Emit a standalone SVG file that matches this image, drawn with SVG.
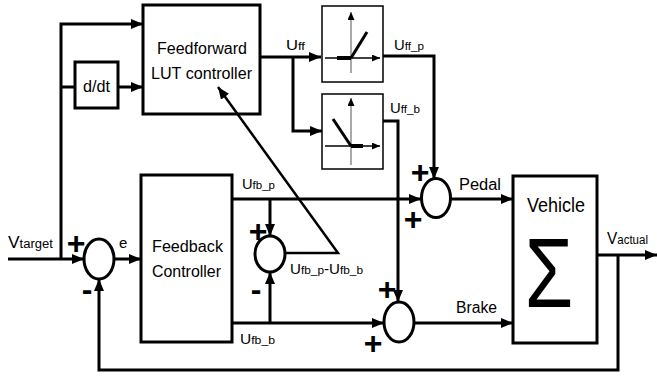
<svg xmlns="http://www.w3.org/2000/svg" width="657" height="376" viewBox="0 0 657 376">
<defs>
<style>
.blk{fill:#fff;stroke:#000;stroke-width:3}
.sat{fill:#fff;stroke:#000;stroke-width:1.5}
.sum{fill:#fff;stroke:#000;stroke-width:3}
.wire{fill:none;stroke:#000;stroke-width:3}
.ax{fill:none;stroke:#000;stroke-width:1.5}
.axv{fill:none;stroke:#555;stroke-width:1}
.t{font-family:"Liberation Sans",Arial,sans-serif;fill:#000}
.sg{font-family:"Liberation Sans",Arial,sans-serif;font-weight:bold;font-size:32px;fill:#000;text-anchor:middle}
</style>
<marker id="ah" markerUnits="userSpaceOnUse" markerWidth="12" markerHeight="10" refX="12" refY="5" orient="auto">
<path d="M0,0 L12,5 L0,10 z" fill="#000"/>
</marker>
<marker id="sa" markerUnits="userSpaceOnUse" markerWidth="8" markerHeight="7" refX="8" refY="3.5" orient="auto">
<path d="M0,0 L8,3.5 L0,7 z" fill="#000"/>
</marker>
</defs>

<g id="ff">
<rect class="blk" x="143" y="5" width="117" height="109"/>
<text class="t" x="202" y="54" font-size="16" text-anchor="middle" textLength="90" lengthAdjust="spacingAndGlyphs">Feedforward</text>
<text class="t" x="201.5" y="79" font-size="16" text-anchor="middle" textLength="101" lengthAdjust="spacingAndGlyphs">LUT controller</text>
</g>

<g id="ddt">
<rect class="blk" x="75" y="62" width="43" height="46"/>
<text class="t" x="96.5" y="92" font-size="16" text-anchor="middle" textLength="27" lengthAdjust="spacingAndGlyphs">d/dt</text>
</g>

<g id="sat_p">
<rect class="sat" x="322" y="6" width="61" height="76"/>
<path class="axv" d="M351,73 L351,12" marker-end="url(#sa)"/>
<path class="ax" d="M325,58 L380,58" marker-end="url(#sa)"/>
<path d="M337,58 L351,58" stroke="#000" stroke-width="4"/>
<path d="M351,58 L367,32" stroke="#000" stroke-width="3"/>
</g>

<g id="sat_b">
<rect class="sat" x="322" y="94" width="61" height="75"/>
<path class="axv" d="M351,165 L351,98" marker-end="url(#sa)"/>
<path class="ax" d="M325,146 L380,146" marker-end="url(#sa)"/>
<path d="M351,146 L363,146" stroke="#000" stroke-width="4"/>
<path d="M351,146 L333,119" stroke="#000" stroke-width="3"/>
</g>

<g id="fb">
<rect class="blk" x="141" y="175" width="91" height="167"/>
<text class="t" x="187.5" y="252" font-size="16" text-anchor="middle" textLength="71" lengthAdjust="spacingAndGlyphs">Feedback</text>
<text class="t" x="186.5" y="277" font-size="16" text-anchor="middle" textLength="69" lengthAdjust="spacingAndGlyphs">Controller</text>
</g>

<g id="vehicle">
<rect class="blk" x="513" y="176" width="84" height="167"/>
<text class="t" x="556" y="212" font-size="20" text-anchor="middle" textLength="58" lengthAdjust="spacingAndGlyphs">Vehicle</text>
<text class="t" transform="translate(549,307) scale(0.8,1)" font-size="98" text-anchor="middle">Σ</text>
</g>

<g id="sum_e">
<ellipse class="sum" cx="99" cy="259" rx="15" ry="20"/>
<text class="sg" x="76" y="254">+</text>
<text class="sg" x="87" y="299.5">-</text>
</g>

<g id="sum_diff">
<ellipse class="sum" cx="270" cy="254" rx="15" ry="18"/>
<text class="sg" x="258" y="242">+</text>
<text class="sg" x="256" y="299.5">-</text>
</g>

<g id="sum_pedal">
<ellipse class="sum" cx="436" cy="198" rx="14.5" ry="19.5"/>
<text class="sg" x="420" y="183">+</text>
<text class="sg" x="413" y="230">+</text>
</g>

<g id="sum_brake">
<ellipse class="sum" cx="399" cy="322" rx="15" ry="20"/>
<text class="sg" x="387" y="300">+</text>
<text class="sg" x="373" y="354">+</text>
</g>

<g id="connectors">
<path class="wire" d="M8,259 L84,259" marker-end="url(#ah)"/>
<path class="wire" d="M61,259 L61,24 L143,24" marker-end="url(#ah)"/>
<path class="wire" d="M61,87 L75,87"/>
<path class="wire" d="M118,87 L143,87" marker-end="url(#ah)"/>
<path class="wire" d="M260,57 L321,57" marker-end="url(#ah)"/>
<path class="wire" d="M293,57 L293,131 L322,131" marker-end="url(#ah)"/>
<path class="wire" d="M383,56 L434,56 L434,179" marker-end="url(#ah)"/>
<path class="wire" d="M383,121 L398,121 L398,302" marker-end="url(#ah)"/>
<path class="wire" d="M114,259 L141,259" marker-end="url(#ah)"/>
<path class="wire" d="M232,199 L421,199" marker-end="url(#ah)"/>
<path class="wire" d="M270,199 L270,236" marker-end="url(#ah)"/>
<path class="wire" d="M232,323 L384,323" marker-end="url(#ah)"/>
<path class="wire" d="M270,323 L270,272" marker-end="url(#ah)"/>
<path class="wire" style="stroke-width:2.5" d="M285,253 L338,253 L218,87" marker-end="url(#ah)"/>
<path class="wire" d="M451,199 L513,199" marker-end="url(#ah)"/>
<path class="wire" d="M414,323 L513,323" marker-end="url(#ah)"/>
<path class="wire" d="M597,255 L657,255" marker-end="url(#ah)"/>
<path class="wire" d="M618,255 L618,370 L99,370 L99,279" marker-end="url(#ah)"/>
</g>

<g id="labels">
<text class="t" x="8" y="248" font-size="16" textLength="45" lengthAdjust="spacingAndGlyphs">V<tspan font-size="12">target</tspan></text>
<text class="t" x="607" y="244" font-size="16" textLength="41" lengthAdjust="spacingAndGlyphs">V<tspan font-size="12">actual</tspan></text>
<text class="t" x="119" y="248" font-size="15">e</text>
<text class="t" x="286" y="50" font-size="14" textLength="19" lengthAdjust="spacingAndGlyphs">U<tspan font-size="11">ff</tspan></text>
<text class="t" x="394" y="50" font-size="14" textLength="30" lengthAdjust="spacingAndGlyphs">U<tspan font-size="11">ff_p</tspan></text>
<text class="t" x="390" y="113" font-size="14" textLength="30" lengthAdjust="spacingAndGlyphs">U<tspan font-size="11">ff_b</tspan></text>
<text class="t" x="242" y="189" font-size="14" textLength="33" lengthAdjust="spacingAndGlyphs">U<tspan font-size="11">fb_p</tspan></text>
<text class="t" x="240" y="344" font-size="14" textLength="35" lengthAdjust="spacingAndGlyphs">U<tspan font-size="11">fb_b</tspan></text>
<text class="t" x="290" y="274" font-size="14" textLength="73" lengthAdjust="spacingAndGlyphs">U<tspan font-size="11">fb_p</tspan>-U<tspan font-size="11">fb_b</tspan></text>
<text class="t" x="459" y="190" font-size="16" textLength="42" lengthAdjust="spacingAndGlyphs">Pedal</text>
<text class="t" x="456" y="313" font-size="16" textLength="41" lengthAdjust="spacingAndGlyphs">Brake</text>
</g>
</svg>
